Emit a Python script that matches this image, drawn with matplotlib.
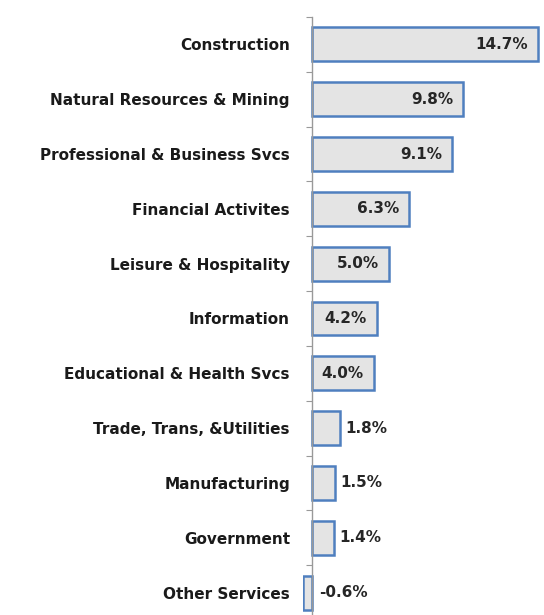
import matplotlib.pyplot as plt

categorias = ['Construction', 'Natural Resources & Mining', 'Professional & Business Svcs',
              'Financial Activites', 'Leisure & Hospitality', 'Information',
              'Educational & Health Svcs', 'Trade, Trans, &Utilities', 'Manufacturing',
              'Government', 'Other Services']
valores = [14.7, 9.8, 9.1, 6.3, 5.0, 4.2, 4.0, 1.8, 1.5, 1.4, -0.6]

plt.rcParams['font.family'] = ['DejaVu Sans']

fig = plt.figure(figsize=(5.44, 6.15), dpi=100)
# axes: x from pixel 303 to 544, y from 17 to ~620 (cut at bottom)
ax = fig.add_axes([303 / 544, (615 - 620) / 615, (544 - 303) / 544, (620 - 17) / 615])

n = len(categorias)
pos = list(range(n))
bars = ax.barh(pos, valores, height=0.62, color='#e4e4e4', edgecolor='#4f7fbf', linewidth=1.8)

ax.set_ylim(n - 0.5, -0.5)
ax.set_xlim(-0.6, 15.1)

for s in ['top', 'right', 'bottom']:
    ax.spines[s].set_visible(False)
ax.spines['left'].set_position(('data', 0))
ax.spines['left'].set_color('#999999')
ax.spines['left'].set_linewidth(1.0)

ax.set_xticks([])
ax.set_yticks([i - 0.5 for i in range(n + 1)])
ax.set_yticklabels([])
ax.tick_params(axis='y', which='major', length=4, color='#999999', direction='out')
ax.set_yticks(pos, minor=True)
ax.set_yticklabels(categorias, minor=True, fontsize=11, fontweight='bold', color='#1a1a1a')
ax.tick_params(axis='y', which='minor', length=0, pad=16)

for b, v in zip(bars, valores):
    y = b.get_y() + b.get_height() / 2
    txt = f'{v:.1f}%'
    if v >= 4:
        ax.annotate(txt, (v, y), xytext=(-7, 0), textcoords='offset points',
                    ha='right', va='center', fontsize=11, fontweight='bold', color='#262626')
    elif v >= 0:
        ax.annotate(txt, (v, y), xytext=(4, 0), textcoords='offset points',
                    ha='left', va='center', fontsize=11, fontweight='bold', color='#262626')
    else:
        ax.annotate(txt, (0, y), xytext=(5, 0), textcoords='offset points',
                    ha='left', va='center', fontsize=11, fontweight='bold', color='#262626')

fig.savefig('out.png', dpi=100)
